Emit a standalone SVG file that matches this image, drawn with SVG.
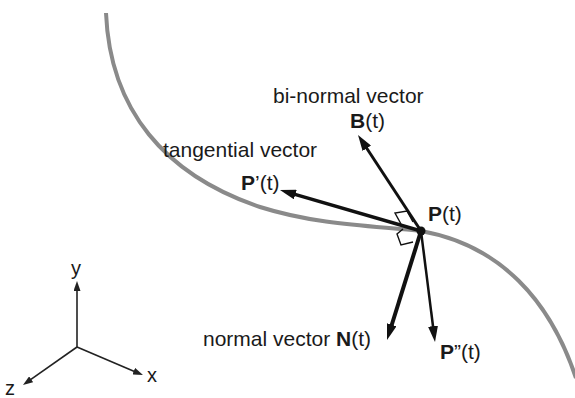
<svg xmlns="http://www.w3.org/2000/svg" width="575" height="398" viewBox="0 0 575 398">
<style>
text{font-family:"Liberation Sans",Arial,sans-serif;font-size:21px;fill:#1a1a1a}
.ax{font-size:20px}
.b{font-weight:bold}
.vec{stroke:#111;fill:none;stroke-linecap:butt}
.axis{stroke:#222;stroke-width:1.6;fill:none}
.ra{stroke:#111;stroke-width:1.4;fill:none}
</style>
<defs>
<marker id="ah" viewBox="0 0 16 10" refX="4" refY="5" markerWidth="16" markerHeight="10" markerUnits="userSpaceOnUse" orient="auto">
<path d="M0,0 L16,5 L0,10 z" fill="#111"/>
</marker>
<marker id="axh" viewBox="0 0 10 7" refX="2" refY="3.5" markerWidth="10" markerHeight="7" markerUnits="userSpaceOnUse" orient="auto">
<path d="M0,0 L10,3.5 L0,7 z" fill="#222"/>
</marker>
</defs>
<g id="curve">
<path d="M106,13 C110,110 165,175 260,207 C320,226 380,226 421,231 C500,245 550,300 576,378" stroke="#8a8a8a" stroke-width="4" fill="none"/>
</g>
<g id="connectors">
<line class="vec" x1="421" y1="231" x2="291.5" y2="193.4" stroke-width="3.5" marker-end="url(#ah)"/>
<line class="vec" x1="421" y1="231" x2="364.6" y2="145" stroke-width="3" marker-end="url(#ah)"/>
<line class="vec" x1="421" y1="231" x2="390.6" y2="328.5" stroke-width="4" marker-end="url(#ah)"/>
<line class="vec" x1="421" y1="231" x2="433.5" y2="330.1" stroke-width="2.5" marker-end="url(#ah)"/>
<polyline class="ra" points="401,224 395,213 407,211 413,222"/>
<polyline class="ra" points="403,229 397,234 401,245 413,242"/>
<line class="axis" x1="77" y1="347" x2="77" y2="289" marker-end="url(#axh)"/>
<line class="axis" x1="77" y1="347" x2="135.6" y2="371.9" marker-end="url(#axh)"/>
<line class="axis" x1="77" y1="347" x2="29.5" y2="380.4" marker-end="url(#axh)"/>
</g>
<g id="point-P">
<circle cx="421" cy="231" r="4.5" fill="#111"/>
<text x="428" y="221"><tspan class="b">P</tspan>(t)</text>
</g>
<g id="binormal">
<text x="273" y="103">bi-normal vector</text>
<text x="350" y="128"><tspan class="b">B</tspan>(t)</text>
</g>
<g id="tangential">
<text x="163" y="157">tangential vector</text>
<text x="241" y="190"><tspan class="b">P</tspan>’(t)</text>
</g>
<g id="normal">
<text x="203" y="346">normal vector <tspan class="b">N</tspan>(t)</text>
</g>
<g id="second-derivative">
<text x="440" y="359"><tspan class="b">P</tspan>”(t)</text>
</g>
<g id="axes">
<text class="ax" x="71" y="275">y</text>
<text class="ax" x="147" y="382">x</text>
<text class="ax" x="5" y="395">z</text>
</g>
</svg>
